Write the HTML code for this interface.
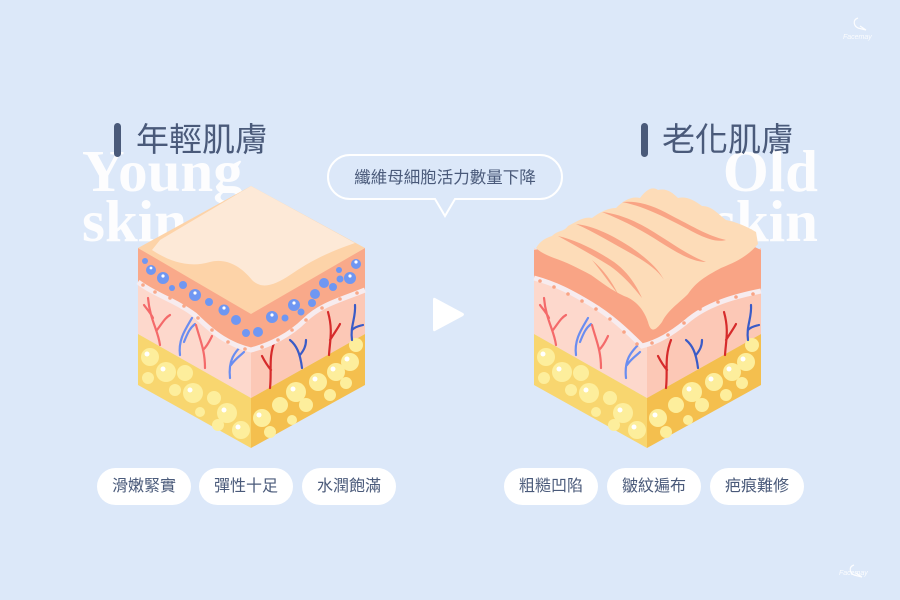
<!DOCTYPE html>
<html><head><meta charset="utf-8"><style>
html,body{margin:0;padding:0}
body{width:900px;height:600px;background:#dce8f9;position:relative;overflow:hidden;font-family:"Liberation Sans","Noto Sans CJK TC",sans-serif}
.bg{position:absolute;color:#fff;font-family:"Liberation Serif",serif;font-weight:bold;font-size:59px;line-height:50px;opacity:.95}
.title{position:absolute;font-size:33px;color:#4a5a7a;line-height:40px}
.bar{position:absolute;width:7px;height:34px;border-radius:4px;background:#4a5a7a}
.pill{position:absolute;top:468px;height:37px;width:94px;border-radius:19px;background:#fff;color:#4a5a7a;font-size:16px;line-height:37px;text-align:center}
.logo{position:absolute;color:#fff;font-size:7px;font-style:italic;opacity:.9}
</style></head><body>
<div class="bg" style="left:82px;top:146px">Young<br>skin</div>
<div class="bg" style="left:700px;top:146px;text-align:right;width:118px">Old<br>skin</div>
<div class="bar" style="left:114px;top:123px"></div>
<div class="title" style="left:136px;top:120px">年輕肌膚</div>
<div class="bar" style="left:641px;top:123px"></div>
<div class="title" style="left:662px;top:120px">老化肌膚</div>

<svg width="900" height="600" style="position:absolute;left:0;top:0">
<defs>
<g id="fat">
<path d="M138,334 L251,398 L251,448 L138,385Z" fill="#f8d66f"/>
<path d="M251,398 L365,334 L365,385 L251,448Z" fill="#f4bf4e"/>
<g fill="#fdee9c">
<circle cx="150" cy="357" r="9"/><circle cx="166" cy="372" r="10"/><circle cx="148" cy="378" r="6"/><circle cx="185" cy="373" r="8"/><circle cx="175" cy="390" r="6"/><circle cx="193" cy="393" r="10"/><circle cx="214" cy="398" r="7"/><circle cx="227" cy="413" r="10"/><circle cx="218" cy="425" r="6"/><circle cx="241" cy="430" r="9"/><circle cx="200" cy="412" r="5"/>
<circle cx="262" cy="418" r="9"/><circle cx="280" cy="405" r="8"/><circle cx="270" cy="432" r="6"/><circle cx="296" cy="392" r="10"/><circle cx="306" cy="405" r="7"/><circle cx="318" cy="382" r="9"/><circle cx="336" cy="372" r="9"/><circle cx="350" cy="362" r="9"/><circle cx="356" cy="345" r="7"/><circle cx="330" cy="395" r="6"/><circle cx="292" cy="420" r="5"/><circle cx="346" cy="383" r="6"/>
</g>
<g fill="#fff"><circle cx="147" cy="354" r="2.5"/><circle cx="163" cy="369" r="2.5"/><circle cx="190" cy="390" r="2.5"/><circle cx="224" cy="410" r="2.5"/><circle cx="238" cy="427" r="2.5"/><circle cx="259" cy="415" r="2.5"/><circle cx="293" cy="389" r="2.5"/><circle cx="315" cy="379" r="2.5"/><circle cx="333" cy="369" r="2.5"/><circle cx="347" cy="359" r="2.5"/></g>
</g>
<g id="veins" fill="none" stroke-width="2.2" stroke-linecap="round">
<path d="M160,345 C158,330 150,320 148,298 M157,330 C163,322 165,318 170,315 M153,318 C150,312 146,308 144,305" stroke="#f46a6a"/>
<path d="M180,355 C178,340 185,330 192,318 M184,342 C188,332 190,328 195,324" stroke="#6a8df0"/>
<path d="M205,368 C205,350 200,340 196,325 M203,350 C208,345 210,340 212,336" stroke="#f46a6a"/>
<path d="M230,378 C228,360 235,352 242,345 M231,365 C236,358 240,356 244,352" stroke="#6a8df0"/>
<path d="M270,388 C272,370 268,358 275,340 M271,370 C266,364 264,360 262,356" stroke="#d62b2b"/>
<path d="M302,368 C300,352 296,345 290,340 M300,355 C304,350 306,346 306,340" stroke="#3a5bc7"/>
<path d="M329,355 C330,340 333,330 328,312 M330,340 C335,332 338,328 340,324" stroke="#d62b2b"/>
<path d="M352,340 C350,326 356,318 355,305 M352,330 C356,326 360,326 363,325" stroke="#3a5bc7"/>
</g>
</defs>

<!-- young cube -->
<path d="M138,248 L251,312 L251,398 L138,334Z" fill="#fdd8cc"/>
<path d="M251,312 L365,248 L365,334 L251,398Z" fill="#fcc8b6"/>
<use href="#fat"/>
<use href="#veins"/>
<path d="M138,248 L251,312 L365,248 L365,290 C340,300 320,305 305,320 C290,335 270,345 251,350 C230,345 215,335 195,315 C175,300 155,295 138,282Z" fill="#f9a98a"/>
<path d="M138,282 C155,295 175,300 195,315 C215,335 230,345 251,350 C270,345 290,335 305,320 C320,305 340,300 365,290" fill="none" stroke="#f7ecef" stroke-width="5"/>
<g fill="#f9a98a"><circle cx="143" cy="285" r="1.8"/><circle cx="155" cy="292" r="1.8"/><circle cx="170" cy="298" r="1.8"/><circle cx="184" cy="306" r="1.8"/><circle cx="198" cy="318" r="1.8"/><circle cx="212" cy="330" r="1.8"/><circle cx="228" cy="342" r="1.8"/><circle cx="245" cy="349" r="1.8"/><circle cx="262" cy="347" r="1.8"/><circle cx="278" cy="340" r="1.8"/><circle cx="292" cy="330" r="1.8"/><circle cx="306" cy="320" r="1.8"/><circle cx="322" cy="308" r="1.8"/><circle cx="340" cy="299" r="1.8"/><circle cx="357" cy="293" r="1.8"/></g>
<g fill="#6f97f2">
<circle cx="145" cy="261" r="3"/><circle cx="151" cy="270" r="5"/><circle cx="163" cy="278" r="6"/><circle cx="172" cy="288" r="3"/><circle cx="183" cy="285" r="4"/><circle cx="195" cy="295" r="6"/><circle cx="209" cy="302" r="4"/><circle cx="224" cy="310" r="5.5"/><circle cx="236" cy="320" r="5"/><circle cx="246" cy="333" r="4"/><circle cx="258" cy="332" r="5"/><circle cx="272" cy="317" r="6"/><circle cx="285" cy="318" r="3.5"/><circle cx="294" cy="305" r="6"/><circle cx="301" cy="312" r="3.5"/><circle cx="312" cy="303" r="4"/><circle cx="315" cy="294" r="5"/><circle cx="324" cy="283" r="5"/><circle cx="333" cy="287" r="4"/><circle cx="340" cy="279" r="3.5"/><circle cx="350" cy="278" r="6"/><circle cx="356" cy="264" r="5"/><circle cx="339" cy="270" r="3"/></g>
<g fill="#fff"><circle cx="163" cy="276" r="1.6"/><circle cx="195" cy="293" r="1.6"/><circle cx="224" cy="308" r="1.6"/><circle cx="272" cy="315" r="1.6"/><circle cx="294" cy="303" r="1.6"/><circle cx="350" cy="276" r="1.6"/><circle cx="356" cy="262" r="1.6"/><circle cx="151" cy="268" r="1.4"/></g>
<path d="M251,186 L365,248 L251,314 L138,248Z" fill="#fdd3a8"/>
<path d="M251,186 L355,243 C320,255 305,265 290,275 C275,285 262,290 252,280 C240,265 225,258 210,262 C190,268 170,262 152,250 L160,240Z" fill="#fde9d7"/>

<!-- old cube -->
<g transform="translate(396,0)">
<path d="M138,248 L251,312 L251,398 L138,334Z" fill="#fdd8cc"/>
<path d="M251,312 L365,248 L365,334 L251,398Z" fill="#fcc8b6"/>
<use href="#fat"/>
<use href="#veins"/>
<path d="M138,250 L138,278 C160,284 175,292 195,302 C215,314 230,328 240,342 L251,347 C265,342 275,332 290,322 C310,302 340,294 365,290 L365,250 L340,238 L251,228 Z" fill="#f9a485"/>
<path d="M138,278 C160,284 175,292 195,304 C215,316 230,330 246,346 C262,342 275,334 290,322 C310,304 340,296 365,291" fill="none" stroke="#f7ecef" stroke-width="5"/>
<g fill="#f9a485"><circle cx="144" cy="281" r="1.8"/><circle cx="158" cy="287" r="1.8"/><circle cx="172" cy="294" r="1.8"/><circle cx="186" cy="301" r="1.8"/><circle cx="200" cy="309" r="1.8"/><circle cx="214" cy="319" r="1.8"/><circle cx="228" cy="332" r="1.8"/><circle cx="241" cy="344" r="1.8"/><circle cx="256" cy="343" r="1.8"/><circle cx="272" cy="335" r="1.8"/><circle cx="288" cy="323" r="1.8"/><circle cx="304" cy="309" r="1.8"/><circle cx="322" cy="302" r="1.8"/><circle cx="340" cy="297" r="1.8"/><circle cx="357" cy="294" r="1.8"/></g>
<path d="M140,248 C145,240 150,238 156,236 C162,230 168,232 172,226 C180,222 188,216 196,218 C204,212 212,208 220,208 C228,200 236,196 244,198 C250,190 256,186 262,190 C270,188 276,192 282,198 C290,196 298,200 306,206 C316,206 322,214 330,220 C340,222 350,226 360,232 L362,244 C352,256 340,262 325,268 C310,276 300,282 292,294 C282,304 272,310 266,322 C260,330 255,334 252,322 C248,310 240,300 228,296 C215,290 205,282 195,275 C182,268 170,262 158,258 C150,255 144,252 140,248Z" fill="#fddcb8"/>
<g fill="#f9a485">
<path d="M162,236 C180,240 200,250 218,262 C232,272 240,285 246,298 C238,288 228,276 214,266 C198,256 180,246 162,236Z"/>
<path d="M180,224 C198,226 218,236 236,248 C250,258 262,268 268,280 C262,270 250,262 236,254 C218,244 198,232 180,224Z"/>
<path d="M206,212 C226,214 246,224 264,236 C280,246 294,256 310,262 C296,262 280,252 264,242 C246,230 226,220 206,212Z"/>
<path d="M226,202 C246,200 262,208 280,218 C296,226 312,236 330,240 C316,244 298,232 282,224 C262,214 246,206 226,202Z"/>
<path d="M196,260 C208,270 216,282 222,294 C214,284 206,272 196,260Z"/>
</g>
</g>

<!-- callout -->
<path d="M350,155 L540,155 A22,22 0 0 1 540,199 L455,199 L445,216 L435,199 L350,199 A22,22 0 0 1 350,155Z" fill="none" stroke="#fff" stroke-width="2"/>
<text x="445" y="183" text-anchor="middle" font-size="16.5" fill="#4a5a7a" font-family="Liberation Sans, Noto Sans CJK TC, sans-serif">纖維母細胞活力數量下降</text>
<path d="M435,298 L463,313 Q465,314 463,316 L435,331 Q433,332 433,329 L433,300 Q433,297 435,298Z" fill="#fff"/>
<g fill="none" stroke="#fff" stroke-width="1.2" opacity=".9">
<path d="M858,18 C852,20 854,26 858,28 L866,30 L860,26"/>
<path d="M854,565 C848,567 850,573 854,575 L862,577 L856,573"/>
</g>
</svg>

<div class="pill" style="left:97px">滑嫩緊實</div>
<div class="pill" style="left:199px">彈性十足</div>
<div class="pill" style="left:302px">水潤飽滿</div>
<div class="pill" style="left:504px">粗糙凹陷</div>
<div class="pill" style="left:607px">皺紋遍布</div>
<div class="pill" style="left:710px">疤痕難修</div>
<div class="logo" style="left:843px;top:34px">Facemay</div>
<div class="logo" style="left:839px;top:570px">Facemay</div>
</body></html>
